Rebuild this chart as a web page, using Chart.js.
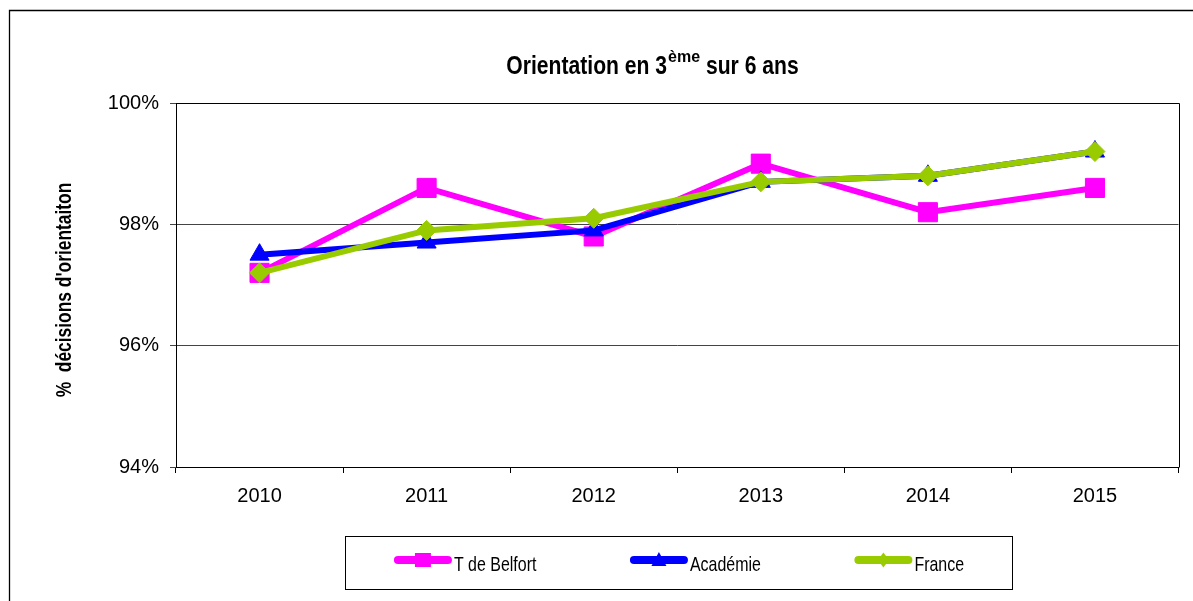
<!DOCTYPE html>
<html><head><meta charset="utf-8">
<script src="https://cdn.jsdelivr.net/npm/chart.js@4/dist/chart.umd.min.js"></script>
<style>html,body{margin:0;padding:0;background:#fff}canvas{display:block}</style>
</head><body>
<canvas id="c" width="1193" height="601"></canvas>
<script>
const categories = ['2010', '2011', '2012', '2013', '2014', '2015'];
const belfort = [97.2, 98.6, 97.8, 99.0, 98.2, 98.6];
const academie = [97.5, 97.7, 97.9, 98.7, 98.8, 99.2];
const france = [97.2, 97.9, 98.1, 98.7, 98.8, 99.2];
const yTicks = [94, 96, 98, 100];
const seriesNames = ['T de Belfort', 'Académie', 'France'];
const seriesColors = ['#FF00FF', '#0000FF', '#99CC00'];
const titleMain = 'Orientation en 3';
const titleSup = 'ème';
const titleEnd = ' sur 6 ans';
const yTitle = "%  décisions d'orientaiton";

const FONT = '"Liberation Sans", Arial, sans-serif';

function drawScaledText(ctx, str, x, y, font, sx) {
  ctx.save();
  ctx.font = font;
  ctx.translate(x, y);
  ctx.scale(sx, 1);
  ctx.fillText(str, 0, 0);
  ctx.restore();
}
function measureScaled(ctx, str, font, sx) {
  ctx.save(); ctx.font = font; const w = ctx.measureText(str).width * sx; ctx.restore(); return w;
}
function legendMarker(ctx, style, x, y, color) {
  ctx.save();
  ctx.fillStyle = color;
  ctx.beginPath();
  if (style === 'rect') {
    ctx.rect(x - 8, y - 7, 16, 14);
  } else if (style === 'triangle') {
    ctx.moveTo(x, y - 8); ctx.lineTo(x + 7.5, y + 6); ctx.lineTo(x - 7.5, y + 6); ctx.closePath();
  } else {
    ctx.moveTo(x, y - 7.5); ctx.lineTo(x + 5.5, y); ctx.lineTo(x, y + 7.5); ctx.lineTo(x - 5.5, y); ctx.closePath();
  }
  ctx.fill();
  ctx.restore();
}

const deco = {
  id: 'deco',
  beforeDraw(chart) {
    const ctx = chart.ctx;
    ctx.save();
    ctx.fillStyle = '#fff';
    ctx.fillRect(0, 0, chart.width, chart.height);
    ctx.strokeStyle = '#000';
    ctx.lineWidth = 1.3;
    ctx.beginPath();
    ctx.moveTo(9.5, chart.height + 2);
    ctx.lineTo(9.5, 10.5);
    ctx.lineTo(chart.width + 2, 10.5);
    ctx.stroke();
    ctx.restore();
  },
  beforeDatasetsDraw(chart) {
    const ctx = chart.ctx, a = chart.chartArea;
    ctx.save();
    ctx.strokeStyle = '#000';
    ctx.lineWidth = 1;
    ctx.beginPath();
    ctx.moveTo(Math.round(a.left) + 0.5, Math.round(a.top) + 0.5);
    ctx.lineTo(Math.round(a.right) + 0.5, Math.round(a.top) + 0.5);
    ctx.lineTo(Math.round(a.right) + 0.5, Math.round(a.bottom) + 0.5);
    ctx.stroke();
    ctx.restore();
  },
  afterDraw(chart) {
    const ctx = chart.ctx;
    ctx.save();
    ctx.fillStyle = '#000';
    ctx.textBaseline = 'alphabetic';
    ctx.textAlign = 'left';
    // Title
    const fMain = 'bold 25px ' + FONT, fSup = 'bold 16px ' + FONT, sx = 0.845;
    const w1 = measureScaled(ctx, titleMain, fMain, sx);
    const w2 = measureScaled(ctx, titleSup, fSup, 1);
    const w3 = measureScaled(ctx, titleEnd, fMain, sx);
    const total = w1 + 1 + w2 + w3;
    let x = 652.5 - total / 2;
    drawScaledText(ctx, titleMain, x, 73.5, fMain, sx);
    x += w1 + 1;
    drawScaledText(ctx, titleSup, x, 62, fSup, 1);
    x += w2;
    drawScaledText(ctx, titleEnd, x, 73.5, fMain, sx);

    // Y axis title
    ctx.save();
    ctx.translate(65, 290);
    ctx.rotate(-Math.PI / 2);
    ctx.scale(0.79, 1);
    ctx.font = 'bold 22px ' + FONT;
    ctx.textAlign = 'center';
    ctx.textBaseline = 'middle';
    ctx.fillText(yTitle, 0, 0);
    ctx.restore();

    // Legend box
    const bx1 = 345.5, by1 = 536.5, bx2 = 1012.5, by2 = 589.5;
    ctx.strokeStyle = '#000';
    ctx.lineWidth = 1;
    ctx.strokeRect(bx1, by1, bx2 - bx1, by2 - by1);
    const fLeg = '21px ' + FONT, lsx = 0.76;
    const lineLen = 58, gapText = 2, gapItem = 93.5;
    const ds = chart.data.datasets;
    const widths = ds.map(d => measureScaled(ctx, d.label, fLeg, lsx));
    let tot = 0;
    widths.forEach((w, i) => { tot += lineLen + gapText + w + (i < widths.length - 1 ? gapItem : 0); });
    let lx = (bx1 + bx2) / 2 - tot / 2;
    const ly = 560;
    ds.forEach((d, i) => {
      ctx.save();
      ctx.strokeStyle = d.borderColor;
      ctx.lineWidth = 8;
      ctx.lineCap = 'round';
      ctx.beginPath();
      ctx.moveTo(lx + 4, ly);
      ctx.lineTo(lx + lineLen - 4, ly);
      ctx.stroke();
      ctx.restore();
      legendMarker(ctx, d.pointStyle, lx + lineLen / 2, ly, d.borderColor);
      ctx.fillStyle = '#000';
      drawScaledText(ctx, d.label, lx + lineLen + gapText, 571, fLeg, lsx);
      lx += lineLen + gapText + widths[i] + gapItem;
    });
    ctx.restore();
  }
};

const datasets = [
  { label: seriesNames[0], data: belfort, borderColor: seriesColors[0], backgroundColor: seriesColors[0],
    pointStyle: 'rect', pointRadius: 13.5, order: 3 },
  { label: seriesNames[1], data: academie, borderColor: seriesColors[1], backgroundColor: seriesColors[1],
    pointStyle: 'triangle', pointRadius: 11, order: 2 },
  { label: seriesNames[2], data: france, borderColor: seriesColors[2], backgroundColor: seriesColors[2],
    pointStyle: 'rectRot', pointRadius: 10, order: 1 }
].map(d => Object.assign({
  borderWidth: 6, tension: 0, fill: false,
  pointBackgroundColor: d.borderColor, pointBorderColor: d.borderColor, pointBorderWidth: 1,
  pointHoverRadius: d.pointRadius
}, d));

new Chart(document.getElementById('c'), {
  type: 'line',
  data: { labels: categories, datasets },
  options: {
    responsive: false,
    animation: false,
    events: [],
    layout: { padding: { top: 103, left: 0, right: 10, bottom: 0 } },
    plugins: { legend: { display: false }, title: { display: false }, tooltip: { enabled: false } },
    scales: {
      x: {
        type: 'category',
        offset: true,
        afterFit(s) { s.height = 134; },
        grid: { offset: true, drawOnChartArea: false, drawTicks: true, tickLength: 6, color: '#000', lineWidth: 1 },
        border: { color: '#000', width: 1 },
        ticks: { color: '#000', font: { family: FONT, size: 20 }, padding: 11, maxRotation: 0 }
      },
      y: {
        min: 94, max: 100,
        afterFit(s) { s.width = 176; },
        afterBuildTicks(s) { s.ticks = yTicks.map(v => ({ value: v })); },
        grid: { color: '#444', lineWidth: 1, drawTicks: true, tickLength: 6 },
        border: { color: '#000', width: 1 },
        ticks: { color: '#000', font: { family: FONT, size: 20 }, padding: 11, callback: v => v + '%' }
      }
    }
  },
  plugins: [deco]
});
</script>
</body></html>
